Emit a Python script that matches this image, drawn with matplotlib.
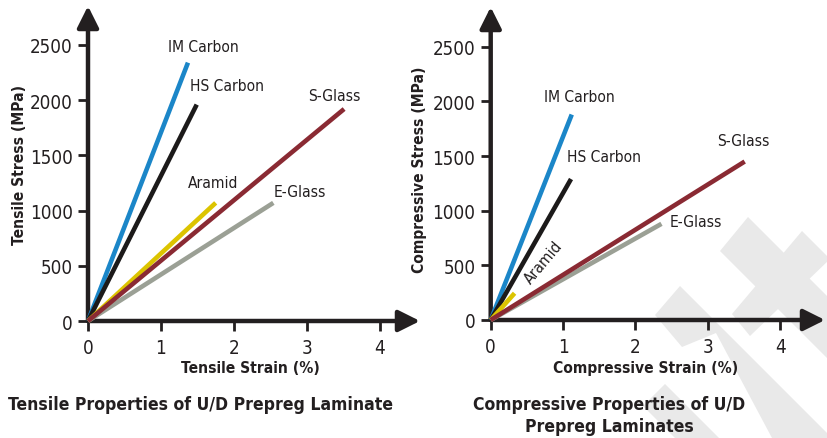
import matplotlib
matplotlib.use("Agg")
import matplotlib.pyplot as plt
from matplotlib.patches import Polygon

plt.rcParams['font.family'] = ['DejaVu Sans']
plt.rcParams['font.stretch'] = 'condensed'

TXT = '#231f20'

# ---------------- data ----------------
materials = ["IM Carbon", "HS Carbon", "Aramid", "S-Glass", "E-Glass"]
colors = ["#1b86c8", "#1c1a1a", "#dcc400", "#8a2a33", "#9ba095"]

tensile_strain = [1.37, 1.49, 1.75, 3.51, 2.54]      # % at failure
tensile_stress = [2340, 1960, 1070, 1920, 1070]      # MPa at failure

comp_strain = [1.12, 1.11, 0.33, 3.51, 2.36]         # %
comp_stress = [1880, 1290, 245, 1450, 880]           # MPa

x_ticks = [0, 1, 2, 3, 4]
y_ticks = [0, 500, 1000, 1500, 2000, 2500]

# label positions (data units), left-aligned
tensile_label_x = [1.10, 1.40, 1.37, 3.01, 2.54]
tensile_label_y = [2490, 2130, 1255, 2040, 1170]
comp_label_x = [0.74, 1.05, 0.73, 3.13, 2.47]
comp_label_y = [2045, 1495, 528, 1640, 900]

W, H = 827, 439
fig = plt.figure(figsize=(W / 100, H / 100), dpi=100)


def fx(px):
    return px / W


def fy(py):
    return 1 - py / H


# ---------------- watermark ----------------
wm = '#e9e9e9'
shapes = [
    [(720, 252), (748, 218), (948, 418), (920, 452)],
    [(732, 315), (802, 232), (830, 260), (750, 337)],
    [(680, 287), (827, 434), (827, 439), (772, 439), (716, 334), (682, 348),
     (655, 316)],
    [(665, 385), (719, 439), (675, 439), (643, 407)],
]
for s in shapes:
    fig.patches.append(Polygon([(fx(a), fy(b)) for a, b in s], closed=True,
                               transform=fig.transFigure, facecolor=wm,
                               edgecolor='none', zorder=0))

LBL = 11.2
AX = 11.2


def make_axes(rect, xmax, ymax, strains, stresses, lx, ly, xlabel, ylabel,
              aramid_rot=None):
    ax = fig.add_axes(rect)
    ax.set_zorder(2)
    ax.patch.set_visible(False)
    for sp in ax.spines.values():
        sp.set_visible(False)
    ax.set_xlim(0, xmax)
    ax.set_ylim(0, ymax)
    ax.set_xticks(x_ticks)
    ax.set_yticks(y_ticks)
    ax.set_xticklabels([str(t) for t in x_ticks])
    ax.set_yticklabels([str(t) for t in y_ticks])
    ax.tick_params(axis='both', direction='out', length=7, width=2,
                   color=TXT, labelcolor=TXT, labelsize=13.5, pad=4)
    ax.tick_params(axis='x', pad=5)
    ap = dict(arrowstyle='-|>,head_length=1.3,head_width=0.65', lw=3.2,
              color=TXT, shrinkA=0, shrinkB=0, mutation_scale=10)
    ax.annotate('', xy=(1, 0), xytext=(0, 0), xycoords='axes fraction',
                arrowprops=ap, annotation_clip=False)
    ax.annotate('', xy=(0, 1), xytext=(0, 0), xycoords='axes fraction',
                arrowprops=ap, annotation_clip=False)
    for i, m in enumerate(materials):
        ax.plot([0, strains[i]], [0, stresses[i]], color=colors[i], lw=3.3,
                solid_capstyle='butt', zorder=3 if m != "S-Glass" else 3.5,
                clip_on=False)
        if m == "Aramid" and aramid_rot is not None:
            ax.text(lx[i], ly[i], m, rotation=aramid_rot, ha='center',
                    va='center', fontsize=LBL, color=TXT,
                    rotation_mode='anchor')
        else:
            ax.text(lx[i], ly[i], m, ha='left', va='center', fontsize=LBL,
                    color=TXT)
    ax.set_xlabel(xlabel, fontsize=AX, fontweight='bold', color=TXT)
    ax.set_ylabel(ylabel, fontsize=AX, fontweight='bold', color=TXT)
    return ax


axL = make_axes([fx(88), fy(322), fx(420) - fx(88), fy(7) - fy(322)],
                4.55, 2853, tensile_strain, tensile_stress,
                tensile_label_x, tensile_label_y,
                "Tensile Strain (%)", "Tensile Stress (MPa)")
axL.xaxis.set_label_coords((250 - 88) / (420 - 88), -(361 - 322) / (322 - 7))
axL.yaxis.set_label_coords(-(88 - 27) / (420 - 88), (322 - 165) / (322 - 7))

axR = make_axes([fx(490.7), fy(321), fx(825) - fx(490.7), fy(8) - fy(321)],
                4.62, 2864, comp_strain, comp_stress,
                comp_label_x, comp_label_y,
                "Compressive Strain (%)", "Compressive Stress (MPa)",
                aramid_rot=50)
axR.xaxis.set_label_coords((646 - 490.7) / (825 - 490.7), -(361 - 321) / (321 - 8))
axR.yaxis.set_label_coords(-(490.7 - 427) / (825 - 490.7), (321 - 170) / (321 - 8))

TT = 12.6
fig.text(fx(8), fy(405), "Tensile Properties of U/D Prepreg Laminate",
         ha='left', va='center', fontsize=TT, fontweight='bold', color=TXT)
fig.text(fx(609), fy(416), "Compressive Properties of U/D\nPrepreg Laminates",
         ha='center', va='center', fontsize=TT, fontweight='bold',
         color=TXT, linespacing=1.3)

fig.savefig("out.png", dpi=100)
